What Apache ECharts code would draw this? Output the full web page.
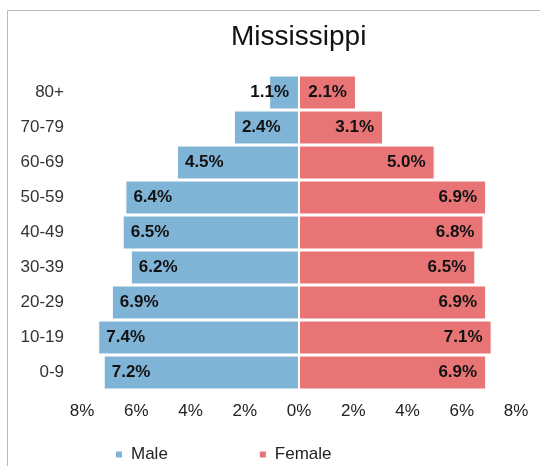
<!DOCTYPE html>
<html><head><meta charset="utf-8">
<script src="https://cdn.jsdelivr.net/npm/echarts@6/dist/echarts.min.js"></script>
<style>html,body{margin:0;padding:0;background:#fff}#c{width:540px;height:466px}</style>
</head><body><div id="c"></div>
<script>
const categories = ['0-9','10-19','20-29','30-39','40-49','50-59','60-69','70-79','80+'];
const maleValues = [7.2,7.4,6.9,6.2,6.5,6.4,4.5,2.4,1.1];
const femaleValues = [6.9,7.1,6.9,6.5,6.8,6.9,5.0,3.1,2.1];
const tickValues = [-8,-6,-4,-2,0,2,4,6,8];

const chart = echarts.init(document.getElementById('c'), null, {renderer:'canvas'});
const fmt = p => Math.abs(p.value).toFixed(1) + '%';
const labelBase = {show:true, fontFamily:'Liberation Sans', fontWeight:'bold', fontSize:17, color:'#111', formatter: fmt};
chart.setOption({
  animation:false,
  graphic:[{type:'rect', shape:{x:7.5,y:10.5,width:700,height:700}, style:{fill:'none', stroke:'#bbbbbb', lineWidth:1}, silent:true}],
  title:{text:'Mississippi', left:226, top:18, textStyle:{fontFamily:'Liberation Sans', fontSize:28, fontWeight:'normal', color:'#111'}},
  legend:{left:109, top:441, itemGap:90, icon:'rect', itemWidth:8, itemHeight:8,
    textStyle:{fontFamily:'Liberation Sans', fontSize:17, color:'#222', padding:[0,0,0,3]}, data:['Male','Female']},
  grid:{left:82, right:24, top:75, bottom:76, containLabel:false},
  xAxis:{type:'value', min:tickValues[0], max:tickValues[tickValues.length-1], interval:2,
    axisLine:{show:false}, axisTick:{show:false}, splitLine:{show:false},
    axisLabel:{margin:13, fontFamily:'Liberation Sans', fontSize:17, color:'#222',
      formatter: v => Math.abs(v) + '%'}},
  yAxis:{type:'category', data:categories,
    axisLine:{show:false}, axisTick:{show:false},
    axisLabel:{margin:18, fontFamily:'Liberation Sans', fontSize:17, color:'#333'}},
  series:[
    {name:'Male', type:'bar', barGap:'-100%', barCategoryGap:'3%',
     itemStyle:{color:'#80b4d6', borderColor:'#ffffff', borderWidth:1},
     label:Object.assign({}, labelBase, {position:'insideLeft', distance:8}),
     data: maleValues.map(v => v < 2 ? {value:-v, label:{position:'insideRight', distance:10}} : {value:-v})},
    {name:'Female', type:'bar', barCategoryGap:'3%',
     itemStyle:{color:'#e87476', borderColor:'#ffffff', borderWidth:1},
     label:Object.assign({}, labelBase, {position:'insideRight', distance:9}),
     data: femaleValues.slice()}
  ]
});
</script></body></html>
